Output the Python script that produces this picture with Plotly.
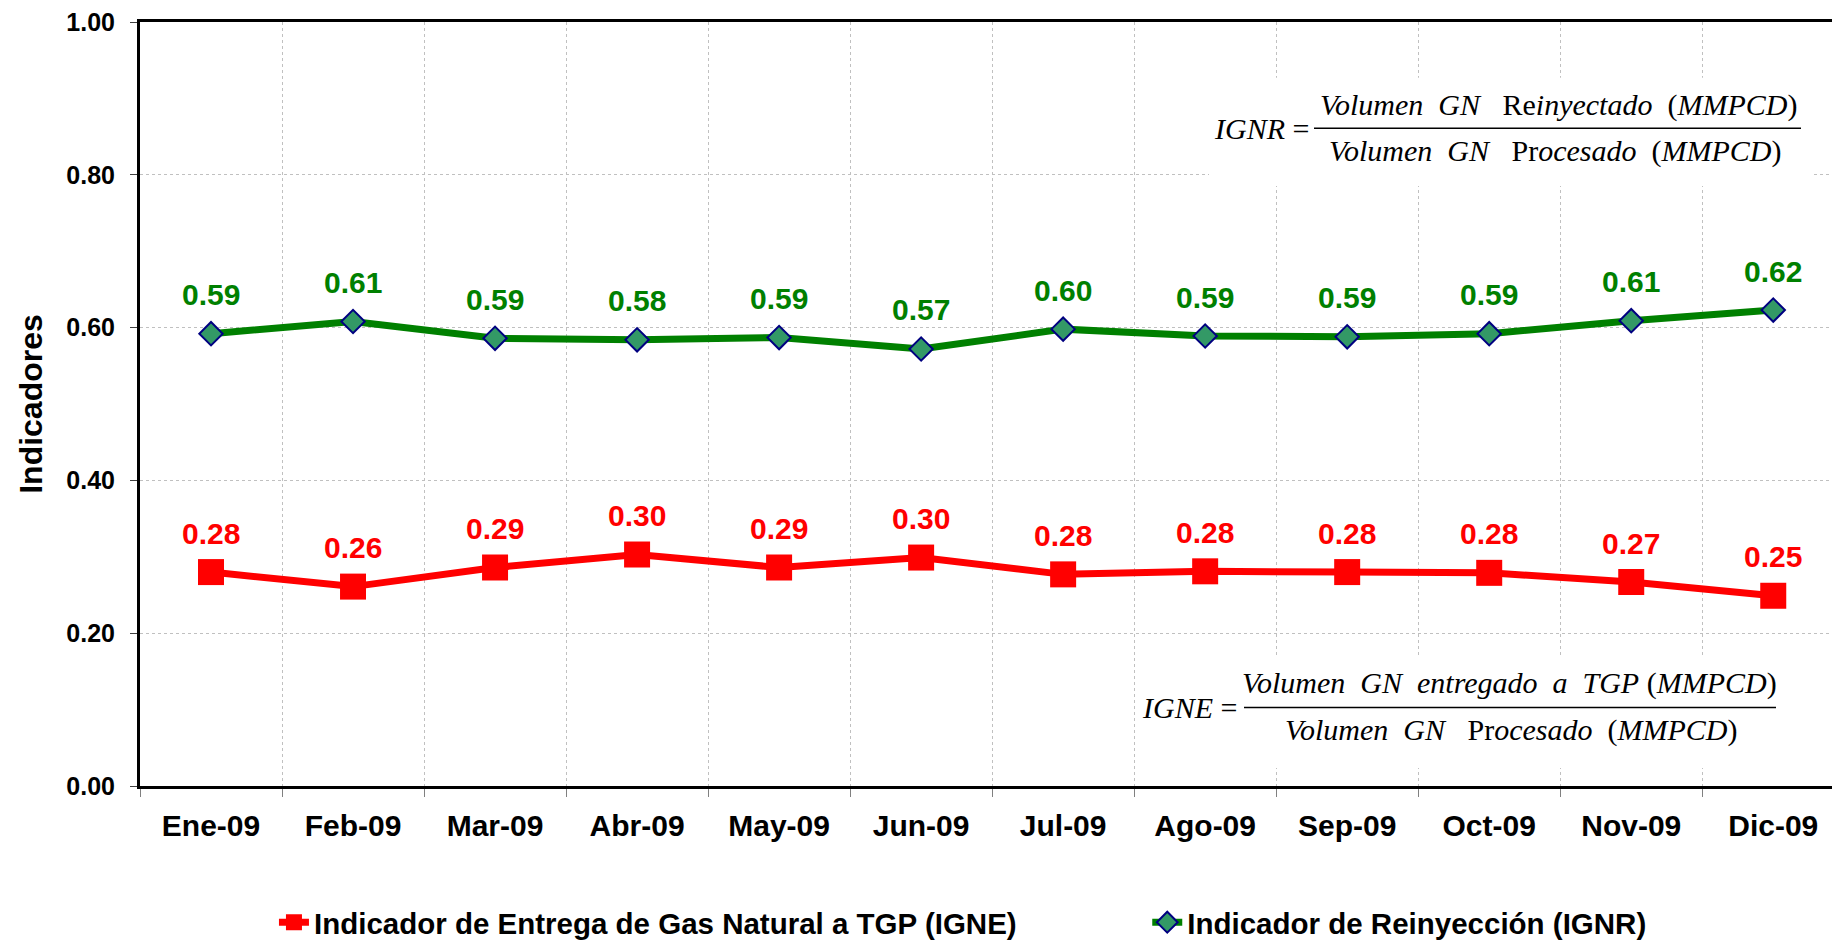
import plotly.graph_objects as go

# Monthly indicators 2009
months = ['Ene-09', 'Feb-09', 'Mar-09', 'Abr-09', 'May-09', 'Jun-09',
          'Jul-09', 'Ago-09', 'Sep-09', 'Oct-09', 'Nov-09', 'Dic-09']
igne = [0.280, 0.261, 0.286, 0.303, 0.286, 0.299, 0.277, 0.281, 0.280, 0.279, 0.267, 0.249]
ignr = [0.592, 0.608, 0.586, 0.584, 0.587, 0.572, 0.598, 0.589, 0.588, 0.592, 0.609, 0.623]
y_ticks = [0.0, 0.2, 0.4, 0.6, 0.8, 1.0]

name_igne = 'Indicador de Entrega de Gas Natural a TGP (IGNE)'
name_ignr = 'Indicador de Reinyección (IGNR)'

RED = '#FF0000'
GREEN = '#008000'
SANS = 'Liberation Sans, Arial, sans-serif'
SERIF = 'Liberation Serif, Times New Roman, serif'

fig = go.Figure()
fig.add_trace(go.Scatter(
    x=months, y=igne, name=name_igne, mode='lines+markers', legend='legend',
    line=dict(color=RED, width=7),
    marker=dict(symbol='square', size=26, color=RED),
))
fig.add_trace(go.Scatter(
    x=months, y=ignr, name=name_ignr, mode='lines+markers', legend='legend2',
    line=dict(color=GREEN, width=7),
    marker=dict(symbol='diamond', size=18, color='#339966',
                line=dict(color='#000080', width=2)),
))

annotations = []
for series, color in ((igne, RED), (ignr, GREEN)):
    for m, v in zip(months, series):
        annotations.append(dict(
            x=m, y=v, text=f'{v:.2f}', showarrow=False, yshift=39,
            font=dict(family=SANS, size=30, color=color, weight='bold')))

# formula boxes, given in page pixels (plot spans x 140..1840, y 17..786)
def px(x):
    return (x - 140) / 1700

def py(y):
    return (786 - y) / 769

ffont = dict(family=SERIF, size=30, color='black')
shapes = []

def formula(label, num, den, lab_x, num_x, den_x, y_num, y_bar, y_den, bar_x0, bar_x1, box):
    annotations.append(dict(xref='paper', yref='paper', x=px(lab_x), y=py(y_bar), text=label,
                            showarrow=False, font=ffont, xanchor='center', yanchor='middle'))
    annotations.append(dict(xref='paper', yref='paper', x=px(num_x), y=py(y_num), text=num,
                            showarrow=False, font=ffont, xanchor='center', yanchor='middle'))
    annotations.append(dict(xref='paper', yref='paper', x=px(den_x), y=py(y_den), text=den,
                            showarrow=False, font=ffont, xanchor='center', yanchor='middle'))
    shapes.append(dict(type='rect', xref='paper', yref='paper', layer='above',
                       x0=px(box[0]), x1=px(box[1]), y0=py(box[3]), y1=py(box[2]),
                       fillcolor='white', line=dict(width=0)))
    shapes.append(dict(type='line', xref='paper', yref='paper', layer='above',
                       x0=px(bar_x0), x1=px(bar_x1), y0=py(y_bar), y1=py(y_bar),
                       line=dict(color='black', width=1.5)))

formula('<i>IGNR</i> =',
        '<i>Volumen&nbsp;&nbsp;GN</i>&nbsp;&nbsp;&nbsp;Re<i>inyectado</i>&nbsp;&nbsp;(<i>MMPCD</i>)',
        '<i>Volumen&nbsp;&nbsp;GN</i>&nbsp;&nbsp;&nbsp;Pr<i>ocesado</i>&nbsp;&nbsp;(<i>MMPCD</i>)',
        1261, 1558, 1555, 101, 124, 147, 1314, 1801, (1209, 1813, 73, 182))
formula('<i>IGNE</i> =',
        '<i>Volumen&nbsp;&nbsp;GN&nbsp;&nbsp;entregado&nbsp;&nbsp;a&nbsp;&nbsp;TGP</i>&nbsp;(<i>MMPCD</i>)',
        '<i>Volumen&nbsp;&nbsp;GN</i>&nbsp;&nbsp;&nbsp;Pr<i>ocesado</i>&nbsp;&nbsp;(<i>MMPCD</i>)',
        1189, 1509, 1511, 682, 707, 730, 1244, 1776, (1137, 1790, 655, 768))

legend_font = dict(family=SANS, size=29.5, weight='bold')
# the page body adds an 8px offset, so the figure is 8px smaller than the window
fig.update_layout(
    width=1832, height=937,
    margin=dict(l=132, r=0, t=9, b=159),
    plot_bgcolor='white', paper_bgcolor='white',
    font=dict(family=SANS, color='black'),
    annotations=annotations,
    shapes=shapes,
    legend=dict(orientation='h', x=0.0788, y=0.024, xref='paper', yref='container',
                xanchor='left', yanchor='middle', font=legend_font,
                bgcolor='rgba(0,0,0,0)'),
    legend2=dict(orientation='h', x=0.5925, y=0.024, xref='paper', yref='container',
                 xanchor='left', yanchor='middle', font=legend_font,
                 bgcolor='rgba(0,0,0,0)'),
    showlegend=True,
)
fig.update_xaxes(
    type='category', range=[-0.5, 11.47], tickson='boundaries',
    ticks='outside', ticklen=8, tickcolor='#808080', tickwidth=1,
    showgrid=True, gridcolor='#c0c0c0', griddash='dot', gridwidth=1,
    showline=True, linecolor='black', linewidth=3, mirror=True,
    tickfont=dict(size=30, weight='bold'), ticklabelstandoff=11,
)
fig.update_yaxes(
    range=[0, 1], tickvals=y_ticks, tickformat='.2f',
    ticks='outside', ticklen=7, tickcolor='#404040', tickwidth=1,
    showgrid=True, gridcolor='#c0c0c0', griddash='dot', gridwidth=1,
    showline=True, linecolor='black', linewidth=3, zeroline=False,
    tickfont=dict(size=25, weight='bold'), ticklabelstandoff=10,
    ticklabeloverflow='allow',
    title=dict(text='Indicadores', font=dict(size=32, weight='bold'), standoff=15),
)

fig.write_html('out.html')
